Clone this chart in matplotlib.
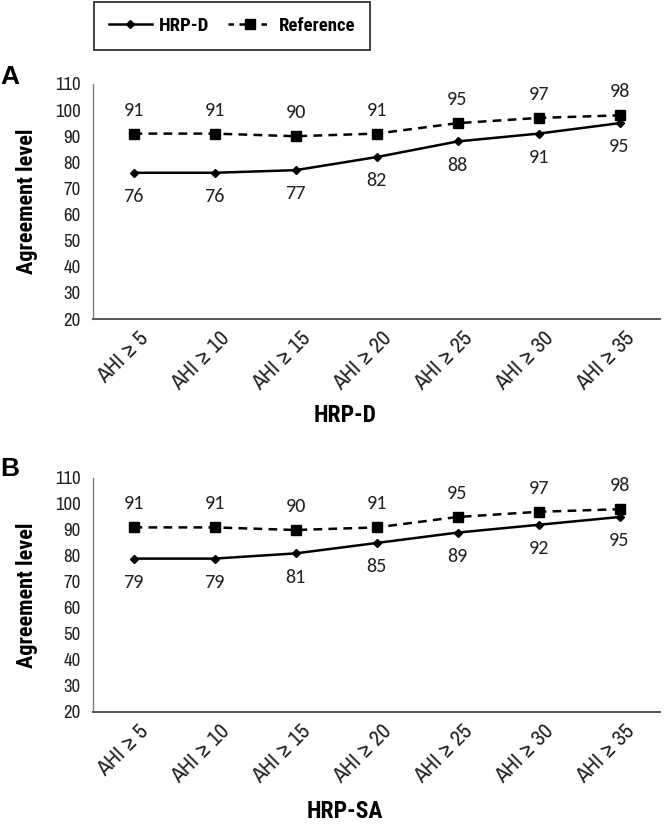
import matplotlib
matplotlib.use("Agg")
import matplotlib.pyplot as plt
from matplotlib.lines import Line2D
import matplotlib.transforms as mtransforms

categories = ["AHI ≥ 5", "AHI ≥ 10", "AHI ≥ 15", "AHI ≥ 20", "AHI ≥ 25", "AHI ≥ 30", "AHI ≥ 35"]
hrp_d = [76, 76, 77, 82, 88, 91, 95]
ref_a = [91, 91, 90, 91, 95, 97, 98]
hrp_sa = [79, 79, 81, 85, 89, 92, 95]
ref_b = [91, 91, 90, 91, 95, 97, 98]
yticks = [20, 30, 40, 50, 60, 70, 80, 90, 100, 110]

NARROW = ["Archivo Narrow", "Liberation Sans", "DejaVu Sans"]
NARROW_B = ["Roboto Condensed", "Fira Sans Condensed", "IBM Plex Sans Condensed", "Liberation Sans", "DejaVu Sans"]
LBL = ["Carlito", "Lato", "DejaVu Sans"]

fig = plt.figure(figsize=(6.65, 8.24), dpi=100)


def panel(rect, main, ref, xlabel, letter, letter_y, xlabel_y):
    ax = fig.add_axes(rect)
    x = list(range(len(categories)))
    ax.plot(x, ref, color="black", lw=1.8, ls=(0, (3.5, 2.5)), marker="s", ms=6.5, zorder=3)
    ax.plot(x, main, color="black", lw=1.8, ls="-", marker="D", ms=4.5, zorder=3)
    for xi, v in zip(x, ref):
        ax.annotate(str(v), (xi, v), xytext=(0, 17), textcoords="offset points",
                    ha="center", va="center", fontsize=14.5, family=LBL, color="#222222")
    for xi, v in zip(x, main):
        ax.annotate(str(v), (xi, v), xytext=(0, -17), textcoords="offset points",
                    ha="center", va="center", fontsize=14.5, family=LBL, color="#222222")
    ax.set_xlim(-0.5, 6.5)
    ax.set_ylim(20, 110)
    ax.set_yticks(yticks)
    ax.set_yticklabels([str(t) for t in yticks], family=NARROW, fontsize=13.5, color="#222222")
    ax.tick_params(axis="y", length=0, pad=9)
    ax.tick_params(axis="x", length=0, pad=0)
    ax.set_xticks(x)
    offset = mtransforms.ScaledTranslation(12 / 100, -16 / 100, fig.dpi_scale_trans)
    labels = ax.set_xticklabels(categories, rotation=45, ha="right", va="center",
                                rotation_mode="anchor", family=NARROW, fontsize=16,
                                color="#222222")
    for lab in labels:
        lab.set_transform(lab.get_transform() + offset)
    for s in ["top", "right"]:
        ax.spines[s].set_visible(False)
    ax.spines["left"].set_color("#7f7f7f")
    ax.spines["bottom"].set_color("#555555")
    ax.spines["left"].set_linewidth(1.0)
    ax.spines["bottom"].set_linewidth(1.4)
    ax.set_ylabel("Agreement level", family=NARROW_B, fontsize=16, fontweight="bold", labelpad=12)
    fig.text(345 / 665, 1 - xlabel_y / 824, xlabel, ha="center", va="center",
             family=NARROW_B, fontsize=17, fontweight="bold")
    fig.text(10 / 665, 1 - letter_y / 824, letter, ha="center", va="center",
             family=["Liberation Sans", "DejaVu Sans"], fontsize=19, fontweight="bold")
    return ax


panel([93 / 665, 1 - 319 / 824, 567 / 665, 235 / 824], hrp_d, ref_a, "HRP-D", "A", 77, 416)
panel([93 / 665, 1 - 712 / 824, 567 / 665, 234 / 824], hrp_sa, ref_b, "HRP-SA", "B", 469, 812)

handles = [
    Line2D([], [], color="black", lw=1.8, marker="D", ms=4.5),
    Line2D([], [], color="black", lw=1.8, ls=(0, (2.2, 2.2)), marker="s", ms=6.5),
]
leg = fig.legend(handles, ["HRP-D", "Reference"], loc="center",
                 bbox_to_anchor=(232 / 665, 1 - 26 / 824), ncol=2, frameon=True,
                 fancybox=False, edgecolor="black", handlelength=2.3, handletextpad=0.4,
                 columnspacing=1.0, borderpad=0.8,
                 prop={"family": NARROW_B, "size": 13.5, "weight": "bold"})
leg.get_frame().set_linewidth(1.3)

fig.savefig("out.png", dpi=100)
